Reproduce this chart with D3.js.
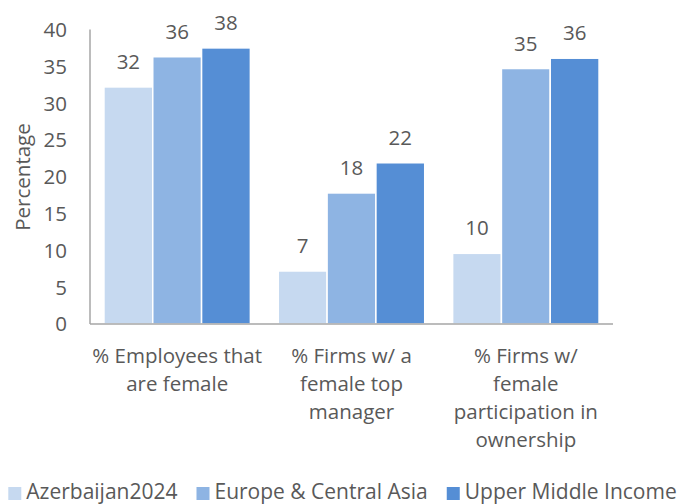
<!DOCTYPE html>
<html>
<head>
<meta charset="utf-8">
<script src="https://cdn.jsdelivr.net/npm/d3@7"></script>
<style>
  body { margin: 0; background: #fff; }
  text { font-family: "Open Sans", sans-serif; fill: #595959; font-size: 20.5px; }
  .legend text { font-size: 21px; }
</style>
</head>
<body>
<div id="vis"></div>
<script>
var w = 685,
    h = 504;

// data
var categories = ["emp", "mgr", "own"];
var categoryLines = [
    ["% Employees that", "are female"],
    ["% Firms w/ a", "female top", "manager"],
    ["% Firms w/", "female", "participation in", "ownership"]
];
var series = ["Azerbaijan2024", "Europe & Central Asia", "Upper Middle Income"];
var colors = ["#c6d9f0", "#8eb4e3", "#558ed5"];
var azerbaijan = [32.2, 7.2, 9.6];
var europe = [36.3, 17.8, 34.7];
var upperMiddle = [37.5, 21.9, 36.1];
var labels = [[32, 7, 10], [36, 18, 35], [38, 22, 36]];
var yTicks = [0, 5, 10, 15, 20, 25, 30, 35, 40];

var values = [azerbaijan, europe, upperMiddle];

var svg = d3.select("#vis")
    .append("svg")
    .attr("width", w)
    .attr("height", h);

var y = d3.scaleLinear().domain([0, 40]).range([324, 29.5]);

var x = d3.scaleBand()
    .domain(categories)
    .range([90, 613])
    .paddingInner(0.16)
    .paddingOuter(0.08);

var x1 = d3.scaleBand()
    .domain(series)
    .range([0, x.bandwidth()]);

// bars
series.forEach(function(s, si) {
    var g = svg.append("g");
    g.selectAll("rect")
        .data(categories)
        .enter().append("rect")
        .attr("x", function(d) { return x(d) + x1(s); })
        .attr("y", function(d, i) { return y(values[si][i]); })
        .attr("width", x1.bandwidth())
        .attr("height", function(d, i) { return y(0) - y(values[si][i]); })
        .attr("fill", colors[si])
        .attr("stroke", "#fff")
        .attr("stroke-width", 1.5);

    g.selectAll("text")
        .data(categories)
        .enter().append("text")
        .attr("x", function(d) { return x(d) + x1(s) + x1.bandwidth() / 2; })
        .attr("y", function(d, i) { return y(values[si][i]) - 18; })
        .attr("text-anchor", "middle")
        .text(function(d, i) { return labels[si][i]; });
});

// axes
svg.append("line")
    .attr("x1", 90).attr("x2", 90)
    .attr("y1", y(0)).attr("y2", y(40))
    .attr("stroke", "#a6a6a6")
    .attr("stroke-width", 1.5);

svg.append("line")
    .attr("x1", 90).attr("x2", 613)
    .attr("y1", y(0)).attr("y2", y(0))
    .attr("stroke", "#a6a6a6")
    .attr("stroke-width", 1.5);

svg.selectAll(".yLabel")
    .data(yTicks)
    .enter().append("text")
    .attr("class", "yLabel")
    .attr("x", 67)
    .attr("y", function(d) { return y(d); })
    .attr("dy", "0.36em")
    .attr("text-anchor", "end")
    .text(String);

svg.append("text")
    .attr("transform", "translate(30," + 177 + ") rotate(-90)")
    .attr("text-anchor", "middle")
    .text("Percentage");

// category labels
var catG = svg.selectAll(".xLabel")
    .data(categories)
    .enter().append("text")
    .attr("class", "xLabel")
    .attr("text-anchor", "middle");

catG.each(function(d, i) {
    var t = d3.select(this);
    categoryLines[i].forEach(function(line, li) {
        t.append("tspan")
            .attr("x", x(d) + x.bandwidth() / 2)
            .attr("y", 363 + li * 28)
            .text(line);
    });
});

// legend
var legend = svg.append("g").attr("class", "legend");
var lx = 0;
series.forEach(function(s, si) {
    legend.append("rect")
        .attr("x", lx)
        .attr("y", 487)
        .attr("width", 13)
        .attr("height", 13)
        .attr("fill", colors[si]);
    var t = legend.append("text")
        .attr("x", lx + 18)
        .attr("y", 499)
        .text(s);
    lx += 18 + t.node().getComputedTextLength() + 19;
});
var lw = lx - 19;
legend.attr("transform", "translate(" + ((w - lw) / 2) + ",0)");
</script>
</body>
</html>
